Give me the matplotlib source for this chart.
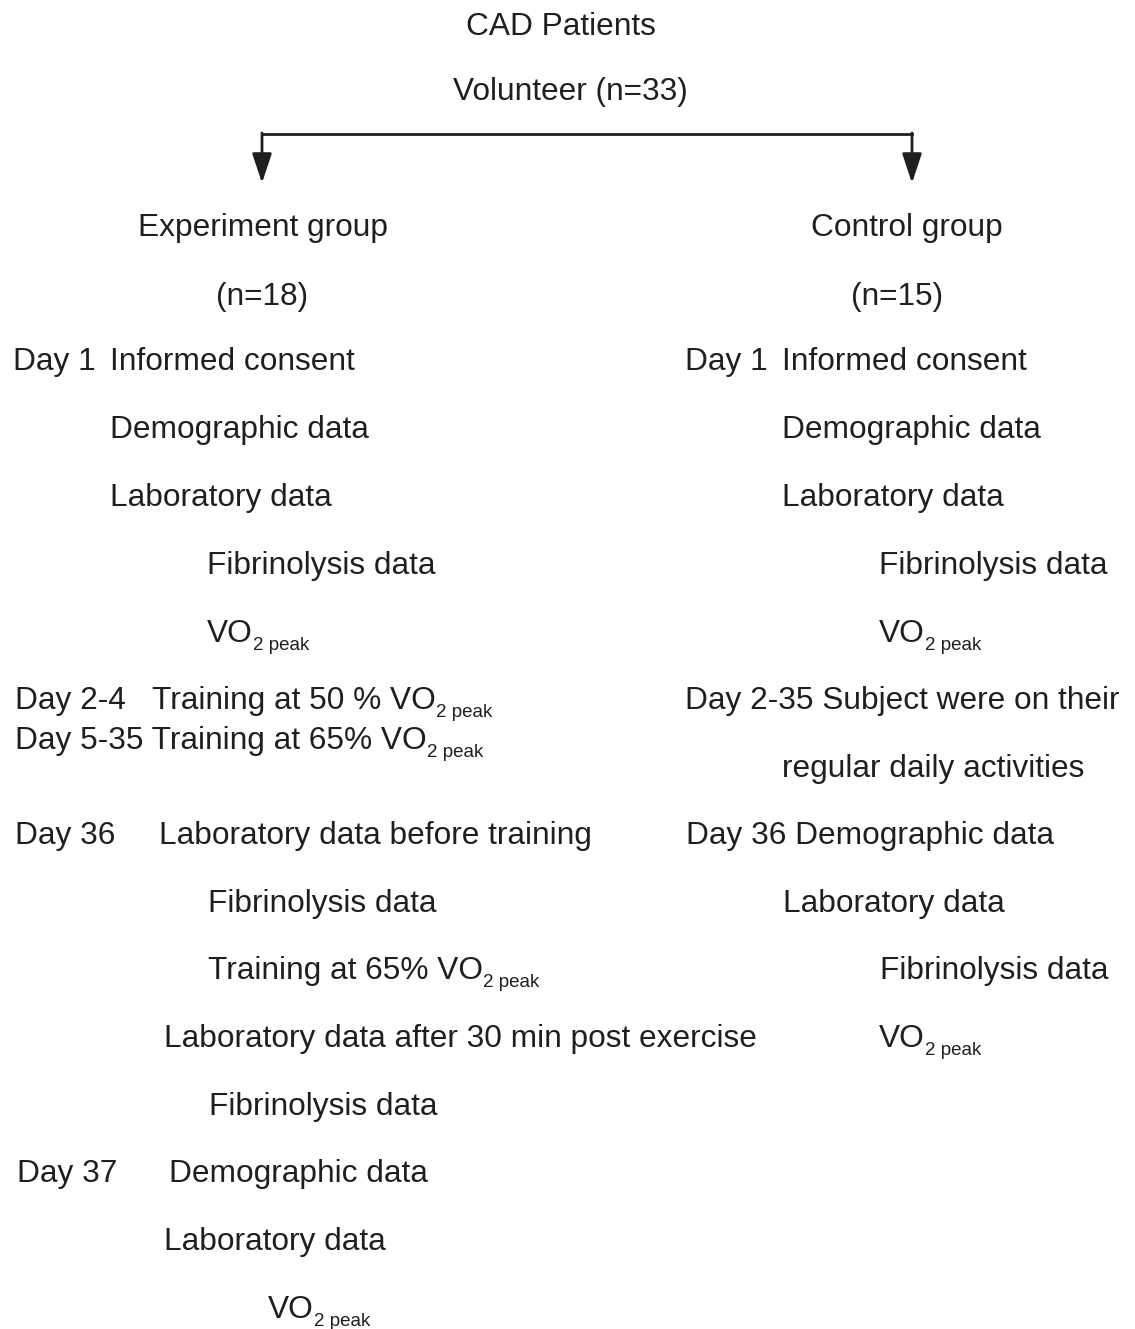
import matplotlib
matplotlib.use("Agg")
import matplotlib.pyplot as plt

plt.rcParams['font.family'] = ['Liberation Sans', 'DejaVu Sans']

# header texts
title = 'CAD Patients'
volunteer = 'Volunteer (n=33)'
group_names = ['Experiment group', 'Control group']
group_sizes = ['(n=18)', '(n=15)']

# experiment group column ("_" starts a subscript)
left_labels = [
    'Day 1', 'Informed consent', 'Demographic data', 'Laboratory data',
    'Fibrinolysis data', 'VO_2 peak',
    'Day 2-4', 'Training at 50 % VO_2 peak',
    'Day 5-35 Training at 65% VO_2 peak',
    'Day 36', 'Laboratory data before training',
    'Fibrinolysis data', 'Training at 65% VO_2 peak',
    'Laboratory data after 30 min post exercise', 'Fibrinolysis data',
    'Day 37', 'Demographic data', 'Laboratory data', 'VO_2 peak',
]
left_x = [13, 110, 110, 110, 207, 207, 15, 152, 15, 15, 159, 208, 208, 164, 209,
          17, 169, 164, 268]
left_y = [370, 370, 438, 506, 574, 642, 709, 709, 749, 844, 844, 912, 979, 1047,
          1115, 1182, 1182, 1250, 1318]

# control group column
right_labels = [
    'Day 1', 'Informed consent', 'Demographic data', 'Laboratory data',
    'Fibrinolysis data', 'VO_2 peak',
    'Day 2-35 Subject were on their', 'regular daily activities',
    'Day 36 Demographic data', 'Laboratory data', 'Fibrinolysis data', 'VO_2 peak',
]
right_x = [685, 782, 782, 782, 879, 879, 685, 782, 686, 783, 880, 879]
right_y = [370, 370, 438, 506, 574, 642, 709, 777, 844, 912, 979, 1047]

W, H = 1135, 1329
fig = plt.figure(figsize=(W / 100, H / 100), dpi=100)
ax = fig.add_axes([0, 0, 1, 1])
ax.set_xlim(0, W)
ax.set_ylim(H, 0)
ax.axis('off')
renderer = fig.canvas.get_renderer()

FS = 22.8
SUB_FS = 13.5
col = '#1f1f1f'


def put_text(x, y, s, ha='left'):
    main, _, sub = s.partition('_')
    t = ax.text(x, y, main, fontsize=FS, ha=ha, va='baseline', color=col)
    if sub:
        # subscript right after the main text, a bit lower
        ext = t.get_window_extent(renderer)
        ax.text(x + ext.width, y + 8, sub, fontsize=SUB_FS,
                ha='left', va='baseline', color=col)


put_text(561, 35, title, ha='center')
put_text(570, 100, volunteer, ha='center')

# branching arrow
ax.plot([262, 912], [134, 134], color=col, lw=2)
for xa in [262, 912]:
    ax.annotate('', xy=(xa, 183), xytext=(xa, 133),
                arrowprops=dict(arrowstyle='-|>,head_length=0.6,head_width=0.2',
                                color=col, lw=2, mutation_scale=30,
                                shrinkA=0, shrinkB=0))

for xc, name, size, xs in zip([263, 907], group_names, group_sizes, [262, 897]):
    put_text(xc, 236, name, ha='center')
    put_text(xs, 305, size, ha='center')

for x, y, s in zip(left_x, left_y, left_labels):
    put_text(x, y, s)
for x, y, s in zip(right_x, right_y, right_labels):
    put_text(x, y, s)

fig.savefig('out.png', dpi=100, facecolor='white')
